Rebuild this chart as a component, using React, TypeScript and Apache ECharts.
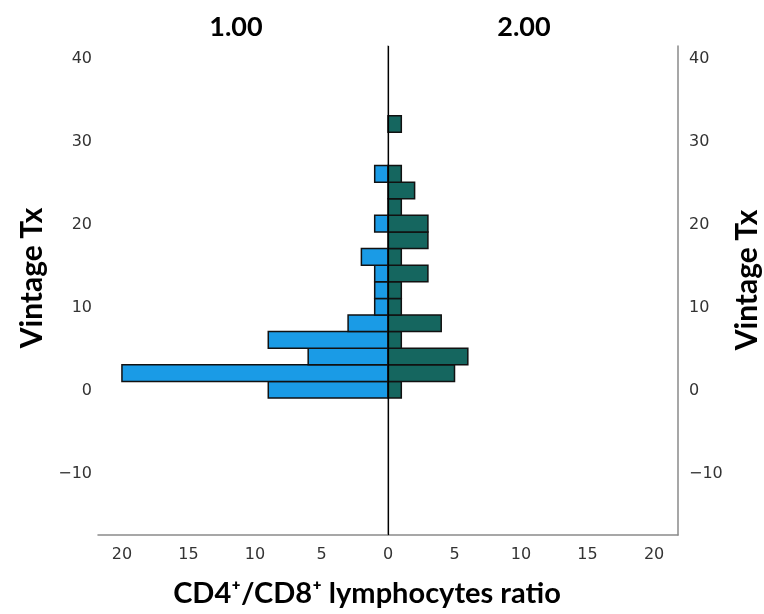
import React, { useEffect, useRef } from "react";
import * as echarts from "echarts";

const binCenters = [0, 2, 4, 6, 8, 10, 12, 14, 16, 18, 20, 22, 24, 26, 28, 30, 32];
const group1Counts = [9, 20, 6, 9, 3, 1, 1, 1, 2, 0, 1, 0, 0, 1, 0, 0, 0];
const group2Counts = [1, 5, 6, 1, 4, 1, 1, 3, 1, 3, 3, 1, 2, 1, 0, 0, 1];
const binWidth = 2;
const groupLabels = ["1.00", "2.00"];
const yTickValues = [-10, 0, 10, 20, 30, 40];
const xTickValues = [-20, -15, -10, -5, 0, 5, 10, 15, 20];
const yTitle = "Vintage Tx";
const xTitle = "CD4\u207A/CD8\u207A lymphocytes ratio";

const BLUE = "#1a9be6";
const TEAL = "#15665f";
const AXIS_GRAY = "#8a8a8a";
const LABEL = "#333333";
const TITLE_FONT = "Lato, 'Open Sans', sans-serif";
const LABEL_FONT = "'DejaVu Sans', sans-serif";

function makeRender(fill: string) {
  return (params: any, api: any) => {
    const center = api.value(0);
    const count = api.value(1);
    const side = api.value(2);
    if (!count) return null;
    const p1 = api.coord([0, center + binWidth / 2]);
    const p2 = api.coord([side * count, center - binWidth / 2]);
    return {
      type: "rect",
      shape: {
        x: Math.min(p1[0], p2[0]),
        y: Math.min(p1[1], p2[1]),
        width: Math.abs(p2[0] - p1[0]),
        height: Math.abs(p2[1] - p1[1]),
      },
      style: { fill, stroke: "#111", lineWidth: 1.5 },
    };
  };
}

export default function App() {
  const ref = useRef<HTMLDivElement>(null);
  useEffect(() => {
    if (!ref.current) return;
    const chart = echarts.init(ref.current, undefined, { renderer: "svg" });
    const yAxisCommon = {
      type: "value",
      min: -17.5,
      max: 41.4,
      axisLine: { show: true, lineStyle: { color: AXIS_GRAY, width: 1.5 } },
      axisTick: { show: false },
      splitLine: { show: false },
      axisLabel: {
        customValues: yTickValues,
        formatter: (v: number) => (v < 0 ? "\u2212" + Math.abs(v) : String(v)),
        color: LABEL,
        fontSize: 16,
        fontFamily: LABEL_FONT,
      },
    };
    chart.setOption({
      animation: false,
      grid: { left: 98, right: 86, top: 46, bottom: 79 },
      xAxis: {
        type: "value",
        min: -21.8,
        max: 21.8,
        axisLine: { show: true, onZero: false, lineStyle: { color: AXIS_GRAY, width: 1.5 } },
        axisTick: { show: false },
        splitLine: { show: false },
        axisLabel: {
          customValues: xTickValues,
          formatter: (v: number) => String(Math.abs(v)),
          color: LABEL,
          fontSize: 16,
          fontFamily: LABEL_FONT,
          margin: 10,
        },
      },
      yAxis: [
        { ...yAxisCommon, position: "left", axisLabel: { ...yAxisCommon.axisLabel, margin: 6 } },
        { ...yAxisCommon, position: "right", axisLabel: { ...yAxisCommon.axisLabel, margin: 11 } },
      ],
      graphic: [
        {
          type: "text",
          x: 236,
          y: 25,
          style: { text: groupLabels[0], font: `bold 27px ${TITLE_FONT}`, fill: "#000", align: "center", verticalAlign: "middle" },
        },
        {
          type: "text",
          x: 524,
          y: 25,
          style: { text: groupLabels[1], font: `bold 27px ${TITLE_FONT}`, fill: "#000", align: "center", verticalAlign: "middle" },
        },
        {
          type: "text",
          x: 30,
          y: 278,
          rotation: Math.PI / 2,
          style: { text: yTitle, font: `bold 30px ${TITLE_FONT}`, fill: "#000", align: "center", verticalAlign: "middle" },
        },
        {
          type: "text",
          x: 745,
          y: 280,
          rotation: Math.PI / 2,
          style: { text: yTitle, font: `bold 30px ${TITLE_FONT}`, fill: "#000", align: "center", verticalAlign: "middle" },
        },
        {
          type: "text",
          x: 367,
          y: 591,
          style: { text: xTitle, font: `bold 29px ${TITLE_FONT}`, fill: "#000", align: "center", verticalAlign: "middle" },
        },
      ],
      series: [
        {
          type: "custom",
          name: groupLabels[0],
          renderItem: makeRender(BLUE),
          data: binCenters.map((c, i) => [c, group1Counts[i], -1]),
          encode: { x: 1, y: 0 },
          markLine: {
            silent: true,
            symbol: "none",
            label: { show: false },
            lineStyle: { color: "#000", width: 1.2, type: "solid" },
            data: [{ xAxis: 0 }],
          },
        },
        {
          type: "custom",
          name: groupLabels[1],
          renderItem: makeRender(TEAL),
          data: binCenters.map((c, i) => [c, group2Counts[i], 1]),
          encode: { x: 1, y: 0 },
        },
      ],
    });
    return () => chart.dispose();
  }, []);
  return <div ref={ref} style={{ position: "fixed", left: 0, top: 0, width: 764, height: 614 }} />;
}
